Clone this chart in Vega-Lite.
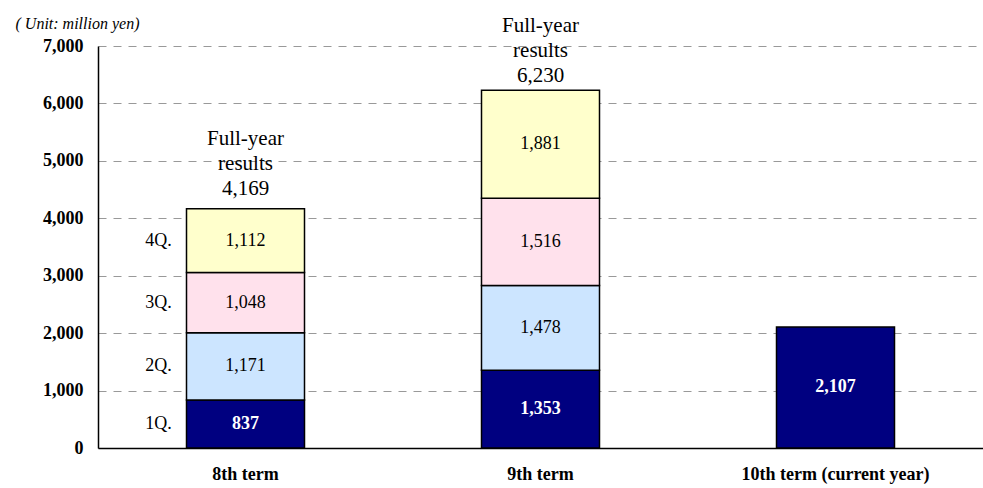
{
  "$schema": "https://vega.github.io/schema/vega-lite/v6.json",
  "width": 885,
  "height": 402,
  "autosize": {"type": "none"},
  "padding": {"left": 98, "top": 46, "right": 0, "bottom": 40},
  "background": "white",
  "config": {
    "view": {"stroke": null},
    "font": "Liberation Serif"
  },
  "datasets": {
    "q": [
      {"term": "8th term", "quarter": "1Q.", "order": 1, "value": 837},
      {"term": "8th term", "quarter": "2Q.", "order": 2, "value": 1171},
      {"term": "8th term", "quarter": "3Q.", "order": 3, "value": 1048},
      {"term": "8th term", "quarter": "4Q.", "order": 4, "value": 1112},
      {"term": "9th term", "quarter": "1Q.", "order": 1, "value": 1353},
      {"term": "9th term", "quarter": "2Q.", "order": 2, "value": 1478},
      {"term": "9th term", "quarter": "3Q.", "order": 3, "value": 1516},
      {"term": "9th term", "quarter": "4Q.", "order": 4, "value": 1881},
      {"term": "10th term (current year)", "quarter": "1Q.", "order": 1, "value": 2107}
    ],
    "totals": [
      {"term": "8th term", "total": 4169, "label": "Full-year\nresults\n4,169"},
      {"term": "9th term", "total": 6230, "label": "Full-year\nresults\n6,230"}
    ]
  },
  "data": {"name": "q"},
  "transform": [
    {"stack": "value", "groupby": ["term"], "sort": [{"field": "order", "order": "ascending"}], "as": ["v0", "v1"]},
    {"calculate": "(datum.v0 + datum.v1) / 2", "as": "mid"}
  ],
  "encoding": {
    "x": {
      "field": "term",
      "type": "nominal",
      "sort": ["8th term", "9th term", "10th term (current year)"],
      "scale": {"paddingInner": 0.6, "paddingOuter": 0.3},
      "axis": {
        "title": null,
        "labelAngle": 0,
        "labelFont": "Liberation Serif",
        "labelFontSize": 18,
        "labelFontWeight": "bold",
        "labelColor": "#000",
        "labelPadding": 17,
        "labelLimit": 0,
        "ticks": false,
        "tickSize": 0,
        "domainColor": "#000",
        "domainWidth": 1.5
      }
    }
  },
  "layer": [
    {
      "mark": {"type": "bar", "stroke": "#000", "strokeWidth": 1.5},
      "encoding": {
        "y": {
          "field": "v0",
          "type": "quantitative",
          "scale": {"domain": [0, 7000], "nice": false},
          "axis": {
            "values": [0, 1000, 2000, 3000, 4000, 5000, 6000, 7000],
            "format": ",d",
            "labelFont": "Liberation Serif",
            "labelFontSize": 18,
            "labelFontWeight": "bold",
            "labelColor": "#000",
            "labelPadding": 15,
            "ticks": false,
            "tickSize": 0,
            "domainColor": "#000",
            "domainWidth": 1.5,
            "grid": true,
            "gridColor": "#999",
            "gridDash": [8, 7],
            "gridWidth": 1.2,
            "title": "( Unit: million yen)",
            "titleAngle": 0,
            "titleAlign": "left",
            "titleBaseline": "alphabetic",
            "titleX": -83,
            "titleY": -18,
            "titleFont": "Liberation Serif",
            "titleFontSize": 16,
            "titleFontStyle": "italic",
            "titleFontWeight": "normal",
            "titleColor": "#000"
          }
        },
        "y2": {"field": "v1"},
        "color": {
          "field": "quarter",
          "type": "nominal",
          "scale": {"domain": ["1Q.", "2Q.", "3Q.", "4Q."], "range": ["#000080", "#CCE5FF", "#FFE1EC", "#FFFFCC"]},
          "legend": null
        }
      }
    },
    {
      "transform": [{"filter": "datum.order == 1"}],
      "mark": {"type": "text", "font": "Liberation Serif", "fontSize": 18, "fontWeight": "bold", "color": "#fff", "baseline": "middle"},
      "encoding": {
        "y": {"field": "mid", "type": "quantitative"},
        "text": {"field": "value", "type": "quantitative", "format": ",d"}
      }
    },
    {
      "transform": [{"filter": "datum.order > 1"}],
      "mark": {"type": "text", "font": "Liberation Serif", "fontSize": 18, "color": "#000", "baseline": "middle"},
      "encoding": {
        "y": {"field": "mid", "type": "quantitative"},
        "text": {"field": "value", "type": "quantitative", "format": ",d"}
      }
    },
    {
      "transform": [{"filter": "datum.term == '8th term'"}],
      "mark": {"type": "text", "font": "Liberation Serif", "fontSize": 18, "color": "#000", "baseline": "middle", "align": "center", "dx": -87},
      "encoding": {
        "y": {"field": "mid", "type": "quantitative"},
        "text": {"field": "quarter", "type": "nominal"}
      }
    },
    {
      "data": {"name": "totals"},
      "transform": [{"filter": "datum.term == '8th term'"}],
      "mark": {"type": "text", "font": "Liberation Serif", "fontSize": 21, "color": "#000", "baseline": "alphabetic", "align": "center", "lineBreak": "\n", "lineHeight": 25, "dy": -64},
      "encoding": {
        "y": {"field": "total", "type": "quantitative"},
        "text": {"field": "label", "type": "nominal"}
      }
    },
    {
      "data": {"name": "totals"},
      "transform": [{"filter": "datum.term == '9th term'"}],
      "mark": {"type": "text", "font": "Liberation Serif", "fontSize": 21, "color": "#000", "baseline": "alphabetic", "align": "center", "lineBreak": "\n", "lineHeight": 25, "dy": -58},
      "encoding": {
        "y": {"field": "total", "type": "quantitative"},
        "text": {"field": "label", "type": "nominal"}
      }
    }
  ]
}
